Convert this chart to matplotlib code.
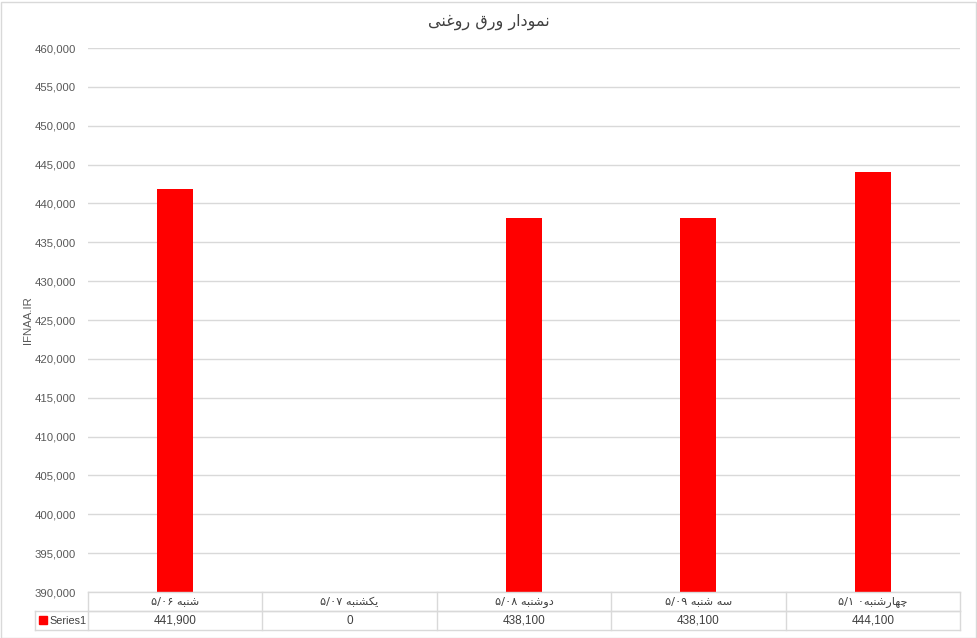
import matplotlib
matplotlib.use("Agg")
import matplotlib.pyplot as plt
from matplotlib.lines import Line2D
from matplotlib.patches import Rectangle
import matplotlib.transforms as mtrans

# ---- data ----
title_text = "نمودار ورق روغنی"
day_names = ["شنبه", "یکشنبه", "دوشنبه", "سه شنبه", "چهارشنبه"]
day_dates = ["۵/۰۶", "۵/۰۷", "۵/۰۸", "۵/۰۹", "۵/۱ ۰"]
values = [441900, 0, 438100, 438100, 444100]
series_name = "Series1"
y_label = "IFNAA.IR"
y_min, y_max, y_step = 390000, 460000, 5000

# ---- simple Arabic/Persian shaping (presentation forms + visual order) ----
FORMS = {
    'ا': ('\uFE8D', '\uFE8E', None, None),
    'ب': ('\uFE8F', '\uFE90', '\uFE91', '\uFE92'),
    'ت': ('\uFE95', '\uFE96', '\uFE97', '\uFE98'),
    'چ': ('\uFB7A', '\uFB7B', '\uFB7C', '\uFB7D'),
    'د': ('\uFEA9', '\uFEAA', None, None),
    'ر': ('\uFEAD', '\uFEAE', None, None),
    'س': ('\uFEB1', '\uFEB2', '\uFEB3', '\uFEB4'),
    'ش': ('\uFEB5', '\uFEB6', '\uFEB7', '\uFEB8'),
    'غ': ('\uFECD', '\uFECE', '\uFECF', '\uFED0'),
    'ق': ('\uFED5', '\uFED6', '\uFED7', '\uFED8'),
    'ک': ('\uFB8E', '\uFB8F', '\uFB90', '\uFB91'),
    'م': ('\uFEE1', '\uFEE2', '\uFEE3', '\uFEE4'),
    'ن': ('\uFEE5', '\uFEE6', '\uFEE7', '\uFEE8'),
    'ه': ('\uFEE9', '\uFEEA', '\uFEEB', '\uFEEC'),
    'و': ('\uFEED', '\uFEEE', None, None),
    'ی': ('\uFBFC', '\uFBFD', '\uFBFE', '\uFBFF'),
}


def dual(c):
    return c in FORMS and FORMS[c][2] is not None


def shape(text):
    out = []
    n = len(text)
    for i, c in enumerate(text):
        if c not in FORMS:
            out.append(c)
            continue
        prev_j = i > 0 and dual(text[i - 1])
        next_j = dual(c) and i + 1 < n and text[i + 1] in FORMS
        iso, fin, ini, med = FORMS[c]
        if prev_j and next_j:
            out.append(med)
        elif prev_j:
            out.append(fin)
        elif next_j:
            out.append(ini)
        else:
            out.append(iso)
    return "".join(reversed(out))


cat_labels = [d + " " + shape(n) if not d.endswith("۰") else d + shape(n)
              for d, n in zip(day_dates, day_names)]

# ---- figure ----
W, H = 977, 638
fig = plt.figure(figsize=(W / 100, H / 100), dpi=100)
L, R, T, B = 88, 960, 48, 592
ax = fig.add_axes([L / W, 1 - B / H, (R - L) / W, (B - T) / H])

num_font = "Liberation Sans"
x = list(range(len(values)))
ax.bar(x, values, width=0.206, color="#FF0000", zorder=3)
ax.set_xlim(-0.5, len(values) - 0.5)
ax.set_ylim(y_min, y_max)
yt = list(range(y_min, y_max + 1, y_step))
ax.set_yticks(yt)
ax.set_yticklabels([f"{v:,}" for v in yt], fontsize=8.2, color="#595959",
                   family=num_font)
ax.tick_params(axis="y", length=0, pad=8.5)
ax.set_xticks([])
ax.grid(axis="y", color="#D9D9D9", linewidth=1, zorder=0)
for s in ax.spines.values():
    s.set_visible(False)

fig.text(28 / W, 1 - 320 / H, y_label, rotation=90, ha="center", va="center",
         fontsize=8.2, color="#595959", family=num_font)
fig.text(489 / W, 1 - 22 / H, shape(title_text), ha="center", va="center",
         fontsize=11.5, color="#404040", family="DejaVu Sans")

# ---- data table ----
gc = "#D9D9D9"
fy = lambda py: 1 - py / H
fx = lambda px: px / W
r0, r1, r2 = 592, 611, 630
lines = [
    ((L, R), (r1, r1)),
    ((35, R), (r1, r1)),
    ((35, R), (r2, r2)),
    ((35, 35), (r1, r2)),
    ((L, L), (r0, r2)),
    ((R, R), (r0, r2)),
]
cw = (R - L) / len(values)
for k in range(1, len(values)):
    xx = L + k * cw
    lines.append(((xx, xx), (r0, r2)))
lines.append(((L, R), (r0, r0)))
for (xs, ys) in lines:
    fig.add_artist(Line2D([fx(xs[0]), fx(xs[1])], [fy(ys[0]), fy(ys[1])],
                          color=gc, linewidth=1, transform=fig.transFigure))

trans = mtrans.blended_transform_factory(ax.transData, fig.transFigure)
for i, (lab, v) in enumerate(zip(cat_labels, values)):
    ax.text(i, fy((r0 + r1) / 2), lab, transform=trans, ha="center",
            va="center", fontsize=8.2, color="#404040", family="DejaVu Sans",
            clip_on=False)
    ax.text(i, fy((r1 + r2) / 2), f"{v:,}", transform=trans, ha="center",
            va="center", fontsize=8.5, color="#404040", family=num_font,
            clip_on=False)

fig.add_artist(Rectangle((fx(39), fy(624)), 8 / W, 8 / H, color="#FF0000",
                         transform=fig.transFigure))
fig.text(fx(49), fy((r1 + r2) / 2), series_name, ha="left", va="center",
         fontsize=7.8, color="#404040", family=num_font)

# outer chart border
fig.add_artist(Rectangle((0.5 / W, 0.5 / H), (W - 2) / W, (H - 2) / H,
                         fill=False, edgecolor="#D9D9D9", linewidth=1,
                         transform=fig.transFigure))

fig.savefig("out.png", dpi=100)
